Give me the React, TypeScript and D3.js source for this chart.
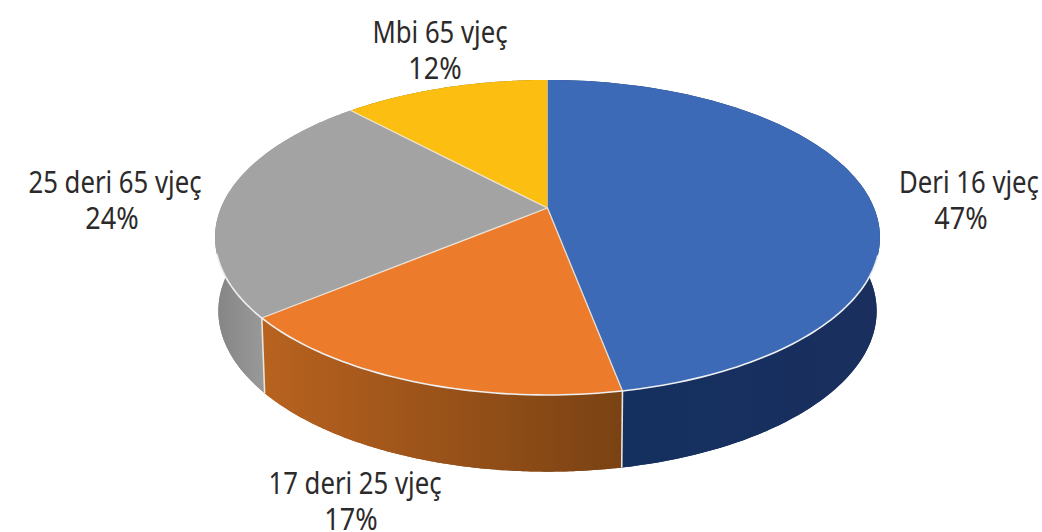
import React from "react";
import * as d3 from "d3";

const categories = ["Deri 16 vjeç", "17 deri 25 vjeç", "25 deri 65 vjeç", "Mbi 65 vjeç"];
const shares = [47, 17, 24, 12];
const shareLabels = ["47%", "17%", "24%", "12%"];
const topColors = ["#3d6ab6", "#ec7c2b", "#a3a3a3", "#fcbf11"];
const sideFrom = ["#14305f", "#b8621f", "#858585", "#8a6a08"];
const sideTo = ["#1a2f5e", "#7a4213", "#9c9c9c", "#8a6a08"];

const W = 1042, H = 532;
const cx = 547.5, R = 326.6, k = 0.187;
const topY = 208, topA = 152;
const botY = 281, botA = 155, botS = 0.99;
const paintOrder = [3, 2, 0, 1];
const gradientSpans = [[622, 880], [265, 622], [216, 271], [350, 547]];
const labelPos = [
  { x: 969, x2: 961, y: 193 },
  { x: 355, x2: 351, y: 494 },
  { x: 115, x2: 112, y: 193 },
  { x: 440, x2: 435, y: 43 },
];

const proj = (a: number, y0 = topY, A = topA, s = 1): [number, number] => {
  const u = Math.sin(a), v = -Math.cos(a), d = 1 - k * v;
  return [cx + (s * R * u) / d, y0 + (A * v) / d];
};
const top = (a: number) => proj(a);
const bot = (a: number) => proj(a, botY, botA, botS);
const arcPts = (f: (a: number) => [number, number], a0: number, a1: number) =>
  d3.range(0, 121).map((i) => f(a0 + ((a1 - a0) * i) / 120));
const line = d3.line<[number, number]>();

export default function App() {
  const slices = d3.pie<number>().sort(null).startAngle(0).endAngle(2 * Math.PI)(shares);
  const font = "'Noto Sans',sans-serif";
  const frontStart = 1.87, frontEnd = 4.42;
  return (
    <svg width={W} height={H} viewBox={`0 0 ${W} ${H}`}
      style={{ position: "fixed", left: 0, top: 0, background: "#fff" }}>
      <defs>
        {slices.map((s, i) => (
          <linearGradient key={i} id={`side${i}`} gradientUnits="userSpaceOnUse"
            x1={gradientSpans[i][0]} x2={gradientSpans[i][1]} y1={0} y2={0}>
            <stop offset="0" stopColor={sideFrom[i]} />
            <stop offset="1" stopColor={sideTo[i]} />
          </linearGradient>
        ))}
      </defs>
      {paintOrder.map((i) => {
        const s = slices[i];
        const b = arcPts(bot, s.startAngle, s.endAngle);
        const wedge = line([[cx, botY], ...b]) + "Z";
        const hull = line([...arcPts(top, s.startAngle, s.endAngle), ...b.slice().reverse()]) + "Z";
        return (
          <g key={i} fill={`url(#side${i})`}>
            <path d={wedge} />
            <path d={hull} />
          </g>
        );
      })}
      {slices.slice(0, 2).map((s, i) => (
        <path key={i} d={line([top(s.endAngle), bot(s.endAngle)]) ?? ""} stroke="#e9e4dc" strokeWidth={1.6} fill="none" />
      ))}
      {slices.map((s, i) => (
        <path key={i} fill={topColors[i]}
          d={line([[cx, topY], ...arcPts(top, s.startAngle, s.endAngle)]) + "Z"} />
      ))}
      {slices.map((s, i) => (
        <path key={i} d={line([[cx, topY], top(s.endAngle)]) ?? ""} stroke="#f1ede6"
          strokeWidth={i === 3 ? 0.8 : 1.3} opacity={i === 3 ? 0.5 : 0.9} fill="none" />
      ))}
      <path d={line(arcPts(top, frontStart, frontEnd)) ?? ""} fill="none" stroke="#eef0f2" strokeWidth={1.6} />
      {categories.map((c, i) => (
        <g key={c} fontFamily={font} fontSize={31} fill="#2c2a2a" textAnchor="middle">
          <text transform={`translate(${labelPos[i].x},${labelPos[i].y}) scale(0.83,1)`}>{c}</text>
          <text transform={`translate(${labelPos[i].x2},${labelPos[i].y + 36}) scale(0.87,1)`}>{shareLabels[i]}</text>
        </g>
      ))}
    </svg>
  );
}
